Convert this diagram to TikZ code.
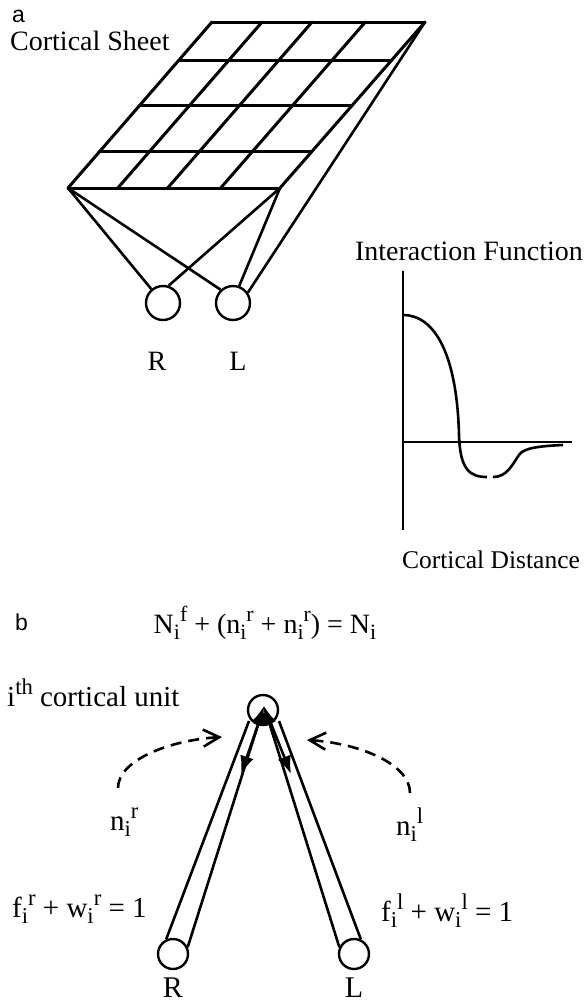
\documentclass[tikz,border=0pt]{standalone}
\usepackage{fontspec}
\setmainfont{Liberation Serif}
\newfontfamily\tagfont{Liberation Sans}
\usepackage{graphicx}
\usepackage{tikz}
\usetikzlibrary{arrows.meta, calc}
\newcommand\dn[1]{\raisebox{-0.22em}{\scalebox{0.78}{#1}}}
\newcommand\up[1]{\raisebox{0.4em}{\scalebox{0.78}{#1}}}
\tikzset{
  unit/.style={circle, draw=black, line width=2.4pt, minimum size=34pt, inner sep=0pt},
  sunit/.style={circle, draw=black, line width=2.4pt, minimum size=30pt, inner sep=0pt},
  lbl/.style={font=\fontsize{28}{33}\selectfont, inner sep=0pt, anchor=base},
  blbl/.style={font=\fontsize{29}{34}\selectfont, inner sep=0pt, anchor=base west},
  tag/.style={font=\tagfont\fontsize{23}{27}\selectfont, inner sep=0pt, anchor=base west},
  sheet/.style={line width=3pt, line cap=round},
  wire/.style={line width=2.6pt},
  fl/.style={line width=2.6pt, -{Latex[length=18pt,width=14pt]}},
  dfl/.style={line width=2.6pt, dash pattern=on 11pt off 7pt,
              -{Straight Barb[length=16pt,width=17pt,line width=2.6pt]}}
}

\begin{document}
\begin{tikzpicture}[x=1pt, y=-1pt]
\useasboundingbox (0,0) rectangle (586,1004);

% a: cortical sheet
\node[tag] (ta) at (12,22) {a};
\node[lbl, anchor=base west] (sheetlab) at (10,50) {Cortical Sheet};
\coordinate (tl) at (212,22);
\coordinate (tr) at (425,22);
\coordinate (bl) at (68,188);
\coordinate (br) at (280,188);
\foreach \t in {0,0.229,0.5,0.783,1}
  \draw[sheet] ($(tl)!\t!(bl)$) -- ($(tr)!\t!(br)$);
\foreach \t in {0,0.235,0.47,0.72,1}
  \draw[sheet] ($(bl)!\t!(br)$) -- ($(tl)!\t!(tr)$);

\node[unit] (ra) at (163,303) {};
\node[unit] (la) at (233,303) {};
\node[lbl] (ralab) at (157,370) {R};
\node[lbl] (lalab) at (238,370) {L};
\draw[wire] (bl) -- (ra.130);
\draw[wire] (bl) -- (la.133);
\draw[wire] (br) -- (ra.72);
\draw[wire] (br) -- (la.70);
\draw[wire] (tr) -- (la.35);

% a: interaction function
\node[lbl] (ifn) at (469,260) {Interaction Function};
\coordinate (ytop) at (403,271);
\coordinate (ybot) at (403,530);
\coordinate (org) at (403,442);
\coordinate (xend) at (572,442);
\draw[wire] (ytop) -- (ybot);
\draw[wire] (org) -- (xend);
\draw[wire] (403,315) .. controls (435,315) and (457,355) .. (459,435)
  .. controls (460,470) and (470,477) .. (487,477);
\draw[wire] (493,477) .. controls (507,477) and (512,465) .. (519,455)
  .. controls (523,448) and (540,446) .. (563,445);
\node[lbl, font=\fontsize{25.5}{30}\selectfont] (cdist) at (491,568) {Cortical Distance};

% b: cortical unit
\node[tag] (tb) at (15,630) {b};
\node[lbl] (eq) at (265,633)
  {N\dn{i}\up{f} + (n\dn{i}\up{r} + n\dn{i}\up{r}) = N\dn{i}};
\node[blbl] (iunit) at (7,706) {i\up{th} cortical unit};

\node[sunit] (ci) at (263,710) {};
\node[sunit] (rb) at (173,954) {};
\node[sunit] (lb) at (354,954) {};
\node[lbl, font=\fontsize{30}{34}\selectfont] (rblab) at (173,997) {R};
\node[lbl, font=\fontsize{30}{34}\selectfont] (lblab) at (354,997) {L};

\coordinate (lo) at (249,721);
\coordinate (ro) at (279,721);
\coordinate (tip) at (264,706);
\draw[wire] (rb.115) -- (lo);
\draw[fl] (rb.25) -- (tip);
\draw[fl] (lb.155) -- (tip);
\draw[wire] (lb.65) -- (ro);

\coordinate (dl1) at (261,716);
\coordinate (dl2) at (241,774);
\coordinate (dr1) at (268,716);
\coordinate (dr2) at (291,774);
\draw[fl] (dl1) -- (dl2);
\draw[fl] (dr1) -- (dr2);

\coordinate (nrs) at (118,788);
\coordinate (nre) at (222,737);
\coordinate (nls) at (410,793);
\coordinate (nle) at (307,740);
\draw[dfl] (nrs) .. controls (118,760) and (170,740) .. (nre);
\draw[dfl] (nls) .. controls (410,763) and (357,743) .. (nle);

\node[blbl] (nr) at (110,830) {n\dn{i}\up{r}};
\node[blbl] (nl) at (396,835) {n\dn{i}\up{l}};
\node[blbl] (frlab) at (12,917) {f\dn{i}\up{r} + w\dn{i}\up{r} = 1};
\node[blbl] (fllab) at (381,921) {f\dn{i}\up{l} + w\dn{i}\up{l} = 1};
\end{tikzpicture}
\end{document}
